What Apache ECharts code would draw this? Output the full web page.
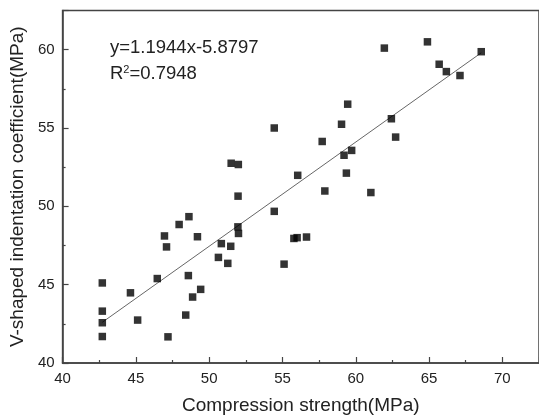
<!DOCTYPE html>
<html>
<head>
<meta charset="utf-8">
<script src="https://cdn.jsdelivr.net/npm/echarts@6/dist/echarts.min.js"></script>
<style>
  html, body { margin: 0; padding: 0; background: #fff; }
  #chart { width: 539px; height: 420px; }
</style>
</head>
<body>
<div id="chart"></div>
<script>
// compression strength (MPa) and V-shaped indentation coefficient (MPa)
const strength = [
  42.71, 42.71, 42.71, 42.71, 44.63, 45.12, 46.46, 46.95, 47.09, 47.19,
  47.95, 48.62, 48.58, 48.40, 48.87, 49.42, 49.20, 50.63, 50.83, 51.27,
  51.47, 51.96, 52.00, 51.50, 51.99, 51.97, 54.44, 61.95, 64.89, 68.56,
  65.69, 66.18, 67.11, 59.45, 59.03, 62.43, 62.72, 57.71, 59.72, 59.20,
  56.04, 59.36, 57.89, 61.03, 54.44, 55.78, 56.00, 56.64, 55.11
]
const coefficient = [
  45.11, 43.31, 42.57, 41.69, 44.48, 42.74, 45.39, 48.11, 47.41, 41.67,
  48.84, 49.34, 45.58, 43.06, 44.21, 44.70, 48.06, 46.74, 47.62, 46.36,
  47.45, 48.69, 48.27, 52.75, 52.67, 50.65, 55.00, 60.10, 60.50, 59.87,
  59.07, 58.60, 58.35, 56.52, 55.24, 55.59, 54.42, 54.14, 53.57, 53.26,
  51.98, 52.12, 50.98, 50.88, 49.68, 47.95, 48.00, 48.04, 46.31
]
// fitted line as drawn (end points)
const fitX = [42.71, 68.56]
const fitY = [42.6, 59.8]

const fontFamily = '"Liberation Sans", Arial, sans-serif'
const axisColor = '#444'

const chart = echarts.init(document.getElementById('chart'))
chart.setOption({
  animation: false,
  textStyle: { fontFamily: fontFamily },
  grid: {
    left: 57,
    top: 10.5,
    right: -4,
    bottom: 53,
    show: true,
    borderColor: axisColor,
    borderWidth: 1.5
  },
  xAxis: {
    type: 'value',
    min: 40,
    max: 72.5,
    interval: 5,
    name: 'Compression strength(MPa)',
    nameLocation: 'middle',
    nameGap: 33,
    nameTextStyle: { fontSize: 19, color: '#222' },
    axisLine: { show: true, lineStyle: { color: axisColor, width: 1.5 } },
    axisTick: { inside: true, length: 6, lineStyle: { color: axisColor, width: 1.2 } },
    minorTick: { show: true, splitNumber: 2, length: 3, lineStyle: { color: axisColor, width: 1.2 } },
    axisLabel: { fontSize: 15, color: '#222', margin: 8, showMaxLabel: false },
    splitLine: { show: false }
  },
  yAxis: {
    type: 'value',
    min: 40,
    max: 62.5,
    interval: 5,
    name: 'V-shaped indentation coefficient(MPa)',
    nameLocation: 'middle',
    nameGap: 30,
    nameTextStyle: { fontSize: 19, color: '#222' },
    axisLine: { show: true, lineStyle: { color: axisColor, width: 1.5 } },
    axisTick: { inside: true, length: 6, lineStyle: { color: axisColor, width: 1.2 } },
    minorTick: { show: true, splitNumber: 2, length: 3, lineStyle: { color: axisColor, width: 1.2 } },
    axisLabel: { fontSize: 15, color: '#222', margin: 8, showMaxLabel: false },
    splitLine: { show: false }
  },
  graphic: [
    {
      type: 'text',
      left: 110,
      top: 38,
      style: {
        text: 'y=1.1944x-5.8797',
        font: '18.5px ' + fontFamily,
        fill: '#222'
      }
    },
    {
      type: 'text',
      left: 110,
      top: 64,
      style: {
        text: '{b|R}{s|2}{b|=0.7948}',
        fill: '#222',
        rich: {
          b: { fontSize: 18.5, fontFamily: fontFamily, color: '#222', verticalAlign: 'bottom' },
          s: { fontSize: 11, fontFamily: fontFamily, color: '#222', verticalAlign: 'top', padding: [0, 0, 8, 0] }
        }
      }
    }
  ],
  series: [
    {
      type: 'line',
      data: fitX.map((x, i) => [x, fitY[i]]),
      symbol: 'none',
      lineStyle: { color: '#666', width: 1 },
      z: 1
    },
    {
      type: 'scatter',
      data: strength.map((x, i) => [x, coefficient[i]]),
      symbol: 'rect',
      symbolSize: 7.5,
      itemStyle: { color: '#000' },
      z: 2
    }
  ]
})
</script>
</body>
</html>
